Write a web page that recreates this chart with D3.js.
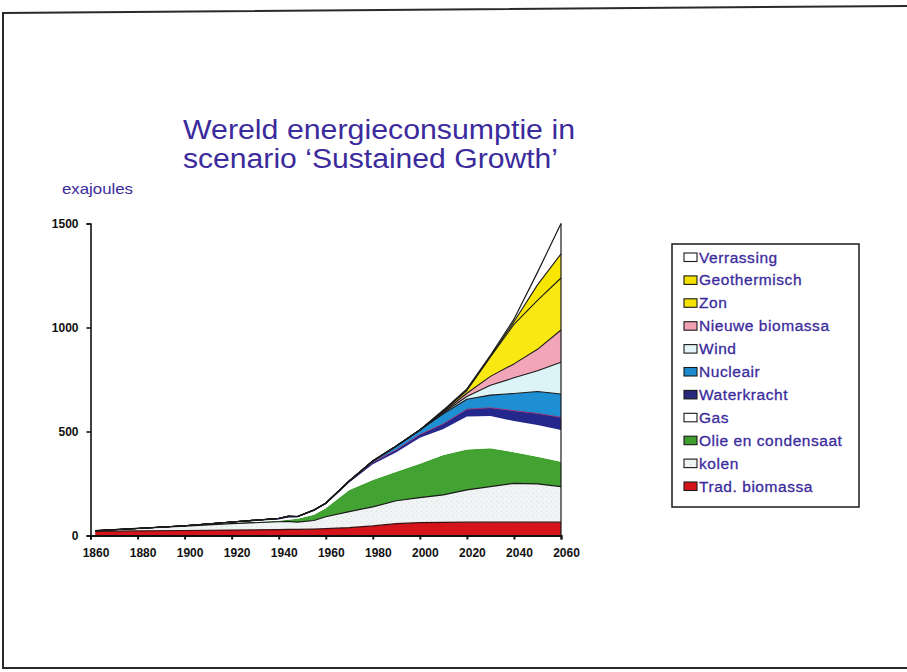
<!DOCTYPE html>
<html>
<head>
<meta charset="utf-8">
<script src="https://cdn.jsdelivr.net/npm/d3@7"></script>
<style>
  html, body { margin: 0; padding: 0; background: #ffffff; }
  svg { display: block; }
</style>
</head>
<body>
<svg id="chart" width="907" height="672"></svg>
<script>
// World energy consumption per source, exajoules (stacked areas)
const years = [1862, 1880, 1900, 1920, 1940, 1944, 1948, 1955, 1960, 1970, 1980, 1990, 2000, 2010, 2020, 2030, 2040, 2050, 2060];

const tradBiomassa   = [20, 22, 24, 26, 28, 29, 29, 31, 33, 38, 46, 57, 62, 63, 64, 64, 64, 64, 64];
const kolen          = [3, 12, 21, 31, 38, 39, 35, 41, 57, 77, 92, 110, 120, 132, 155, 171, 187, 184, 171];
const olie           = [0, 0, 1, 3, 5, 8, 16, 28, 41, 104, 129, 140, 163, 192, 195, 185, 149, 131, 120];
const gas            = [0, 0, 1, 3, 6, 10, 8, 18, 19, 36, 75, 93, 125, 125, 158, 154, 150, 152, 152];
const waterkracht    = [0, 0, 0, 2, 5, 6, 3, 5, 4, 5, 10, 12, 15, 25, 35, 40, 50, 56, 61];
const nucleair       = [0, 0, 0, 0, 0, 0, 0, 0, 1, 2, 6, 18, 22, 48, 48, 61, 83, 105, 112];
const wind           = [0, 0, 0, 0, 0, 0, 0, 0, 0, 0, 0, 0, 0, 5, 13, 47, 75, 100, 153];
const nieuweBiomassa = [0, 0, 0, 0, 0, 0, 0, 0, 0, 0, 0, 0, 0, 4, 16, 43, 67, 103, 155];
const zon            = [0, 0, 0, 0, 0, 0, 0, 0, 0, 0, 0, 0, 0, 4, 13, 93, 190, 235, 250];
const geothermisch   = [0, 0, 0, 0, 0, 0, 0, 0, 0, 0, 0, 0, 0, 2, 3, 4, 13, 75, 116];
const verrassing     = [0, 0, 0, 0, 0, 0, 0, 0, 0, 0, 0, 0, 0, 3, 5, 4, 12, 60, 146];

const seriesNames = ["Trad. biomassa", "kolen", "Olie en condensaat", "Gas", "Waterkracht",
  "Nucleair", "Wind", "Nieuwe biomassa", "Zon", "Geothermisch", "Verrassing"];
const seriesValues = [tradBiomassa, kolen, olie, gas, waterkracht, nucleair, wind,
  nieuweBiomassa, zon, geothermisch, verrassing];

const yTicks = [0, 500, 1000, 1500];
const xTicks = [1860, 1880, 1900, 1920, 1940, 1960, 1980, 2000, 2020, 2040, 2060];

const titleLines = ["Wereld energieconsumptie in", "scenario \u2018Sustained Growth\u2019"];
const unitLabel = "exajoules";

// Fill and outline per source
const styles = {
  "Trad. biomassa":     { fill: "#d4141a", stroke: "#3a1010", sw: 1.2 },
  "kolen":              { fill: "url(#speckle)", stroke: "#1a1a1a", sw: 1.2 },
  "Olie en condensaat": { fill: "#42a232", stroke: "none", sw: 0 },
  "Gas":                { fill: "#ffffff", stroke: "none", sw: 0 },
  "Waterkracht":        { fill: "#24288c", stroke: "#9a2a6a", sw: 0.9 },
  "Nucleair":           { fill: "#1e8fd2", stroke: "#1a1a1a", sw: 1.1 },
  "Wind":               { fill: "#dcf3f8", stroke: "#1a1a1a", sw: 1.1 },
  "Nieuwe biomassa":    { fill: "#f3a5b8", stroke: "#1a1a1a", sw: 1.1 },
  "Zon":                { fill: "#f9e812", stroke: "#1a1a1a", sw: 1.1 },
  "Geothermisch":       { fill: "#f9e600", stroke: "#1a1a1a", sw: 1.1 },
  "Verrassing":         { fill: "#ffffff", stroke: "#1a1a1a", sw: 1.2 }
};

const svg = d3.select("#chart");
const textColor = "#3b2b9c";
const font = "'Liberation Sans', Arial, sans-serif";

// speckled fill used for coal
const defs = svg.append("defs");
const pat = defs.append("pattern").attr("id", "speckle")
  .attr("width", 5).attr("height", 5).attr("patternUnits", "userSpaceOnUse");
pat.append("rect").attr("width", 5).attr("height", 5).attr("fill", "#f1f4f4");
pat.append("rect").attr("x", 1).attr("y", 1).attr("width", 1).attr("height", 1).attr("fill", "#d8dcdd");
pat.append("rect").attr("x", 3).attr("y", 3).attr("width", 1).attr("height", 1).attr("fill", "#e2e5e6");

// page frame
svg.append("path")
  .attr("d", "M907,6 L3,13 L3,668 L907,668")
  .attr("fill", "none").attr("stroke", "#2a2a2a").attr("stroke-width", 2);

// title
svg.selectAll("text.title").data(titleLines).join("text")
  .attr("class", "title")
  .attr("fill", textColor).attr("font-family", font).attr("font-size", 27)
  .attr("x", 183).attr("y", (d, i) => 139 + i * 28.5)
  .attr("textLength", (d, i) => i === 0 ? 392 : 375)
  .attr("lengthAdjust", "spacingAndGlyphs")
  .text(d => d);

svg.append("text").attr("fill", textColor)
  .attr("font-family", font).attr("font-size", 15)
  .attr("x", 62).attr("y", 194).attr("textLength", 71).attr("lengthAdjust", "spacingAndGlyphs")
  .text(unitLabel);

// scales
const x = d3.scaleLinear().domain([1860, 2060]).range([90.5, 561]);
const y = d3.scaleLinear().domain([0, 1500]).range([535.5, 223.5]);

// stacked data
const table = years.map((yr, i) => {
  const row = { year: yr };
  seriesNames.forEach((n, k) => { row[n] = seriesValues[k][i]; });
  return row;
});
const stacked = d3.stack().keys(seriesNames)(table);

const area = d3.area()
  .x(d => x(d.data.year))
  .y0(d => y(d[0]))
  .y1(d => y(d[1]));
const topLine = d3.line()
  .x(d => x(d.data.year))
  .y(d => y(d[1]));

const plot = svg.append("g");
plot.selectAll("path.layer").data(stacked).join("path")
  .attr("class", "layer")
  .attr("d", area)
  .attr("fill", d => styles[d.key].fill)
  .attr("stroke", "none");

plot.selectAll("path.edge").data(stacked.filter(s => styles[s.key].stroke !== "none")).join("path")
  .attr("class", "edge")
  .attr("d", topLine)
  .attr("fill", "none")
  .attr("stroke", d => styles[d.key].stroke)
  .attr("stroke-width", d => styles[d.key].sw)
  .attr("stroke-linejoin", "round");

// closing edge at the last year
const last = stacked[stacked.length - 1];
const lastPt = last[last.length - 1];
plot.append("line")
  .attr("x1", x(lastPt.data.year)).attr("x2", x(lastPt.data.year))
  .attr("y1", y(0)).attr("y2", y(lastPt[1]))
  .attr("stroke", "#1a1a1a").attr("stroke-width", 1.2);

// axes
const yAxis = svg.append("g").attr("transform", `translate(${x(1860)},0)`)
  .call(d3.axisLeft(y).tickValues(yTicks).tickSize(4).tickPadding(8).tickFormat(d3.format("d")));
yAxis.select(".domain").attr("stroke", "#111").attr("stroke-width", 1.6);
yAxis.selectAll(".tick line").attr("stroke", "#111").attr("stroke-width", 1.6);
yAxis.selectAll(".tick text").attr("font-family", font).attr("font-size", 12)
  .attr("font-weight", "bold").attr("fill", "#111");

const xAxis = svg.append("g").attr("transform", `translate(0,${y(0)})`)
  .call(d3.axisBottom(x).tickValues(xTicks).tickSize(4).tickPadding(9).tickFormat(d3.format("d")));
xAxis.select(".domain").attr("stroke", "#111").attr("stroke-width", 1.8);
xAxis.selectAll(".tick line").attr("stroke", "#111").attr("stroke-width", 2);
xAxis.selectAll(".tick text").attr("font-family", font).attr("font-size", 12)
  .attr("font-weight", "bold").attr("fill", "#111").attr("dx", 5);

// legend
const legend = svg.append("g");
legend.append("rect").attr("x", 672).attr("y", 244).attr("width", 187).attr("height", 263)
  .attr("fill", "#fff").attr("stroke", "#1a1a1a").attr("stroke-width", 1.5);
const legendOrder = seriesNames.slice().reverse();
const legendSwatch = {
  "Verrassing": "#ffffff", "Geothermisch": "#f4e000", "Zon": "#f6e400",
  "Nieuwe biomassa": "#f2a0b4", "Wind": "#e4f6fa", "Nucleair": "#1e8ad0",
  "Waterkracht": "#28287c", "Gas": "#ffffff", "Olie en condensaat": "#3e9e2e",
  "kolen": "url(#speckle)", "Trad. biomassa": "#d41418"
};
const items = legend.selectAll("g.item").data(legendOrder).join("g")
  .attr("class", "item")
  .attr("transform", (d, i) => `translate(684,${257 + i * 22.9})`);
items.append("rect").attr("x", 0).attr("y", -4).attr("width", 13).attr("height", 8.5)
  .attr("fill", d => legendSwatch[d]).attr("stroke", "#1a1a1a").attr("stroke-width", 1.1);
items.append("text").attr("x", 15).attr("y", 5.5)
  .attr("font-family", font).attr("font-size", 15.5).attr("letter-spacing", 0.55)
  .attr("fill", textColor).attr("stroke", textColor).attr("stroke-width", 0.3)
  .text(d => d);
</script>
</body>
</html>
